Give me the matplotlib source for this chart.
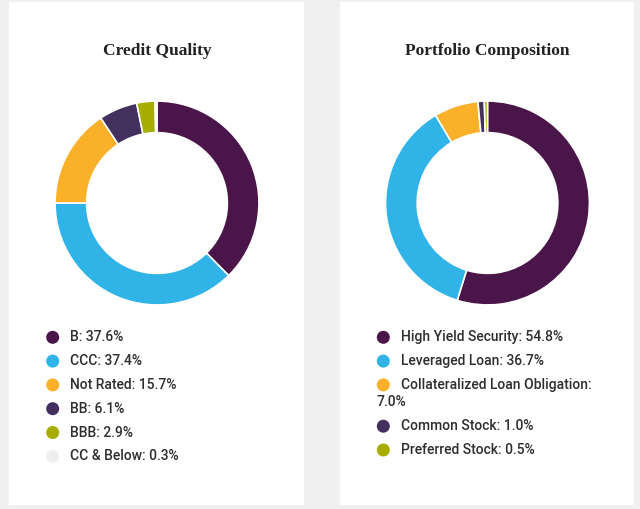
import matplotlib.pyplot as plt
from matplotlib.patches import Rectangle, Circle

W, H = 640, 509

# data
credit_labels = ["B", "CCC", "Not Rated", "BB", "BBB", "CC & Below"]
credit_values = [37.6, 37.4, 15.7, 6.1, 2.9, 0.3]
credit_colors = ["#4a1548", "#30b4e8", "#fbb02a", "#43305e", "#a6ad00", "#eeeeee"]

comp_labels = ["High Yield Security", "Leveraged Loan",
               "Collateralized Loan Obligation:\n", "Common Stock", "Preferred Stock"]
comp_values = [54.8, 36.7, 7.0, 1.0, 0.5]
comp_colors = ["#4a1548", "#30b4e8", "#fbb02a", "#43305e", "#a6ad00"]

TEXT = "#2e2e2e"
LEG_FONT = "Roboto"

fig = plt.figure(figsize=(W / 100, H / 100), dpi=100)
fig.patch.set_facecolor("#f0f0f0")

# overlay axes in pixel coordinates
bg = fig.add_axes([0, 0, 1, 1])
bg.set_xlim(0, W)
bg.set_ylim(H, 0)
bg.axis("off")

# white cards
bg.add_patch(Rectangle((9, 2), 295, 503, facecolor="white", edgecolor="none"))
bg.add_patch(Rectangle((340, 2), 294, 503, facecolor="white", edgecolor="none"))

bg.text(157, 51, "Credit Quality", ha="center", va="center", fontsize=12.5,
        family="Liberation Serif", weight="bold", color="#222222")
bg.text(487, 51, "Portfolio Composition", ha="center", va="center", fontsize=12.5,
        family="Liberation Serif", weight="bold", color="#222222")


def donut(cx, cy, values, colors):
    r = 104
    ax = fig.add_axes([(cx - r) / W, (H - cy - r) / H, 2 * r / W, 2 * r / H])
    ax.pie(values, colors=colors, startangle=90, counterclock=False,
           wedgeprops=dict(width=0.31, edgecolor="white", linewidth=1.2))
    ax.set_xlim(-1.02, 1.02)
    ax.set_ylim(-1.02, 1.02)
    ax.set_aspect("equal")
    ax.axis("off")


donut(157, 203, credit_values, credit_colors)
donut(487.5, 203, comp_values, comp_colors)


def legend(dot_x, text_x, wrap_x, y0, labels, values, colors):
    y = y0
    for lab, val, col in zip(labels, values, colors):
        bg.add_patch(Circle((dot_x, y), 6.5, facecolor=col, edgecolor="none"))
        if lab.endswith("\n"):
            bg.text(text_x, y, lab.strip(), ha="left", va="center", fontsize=10,
                    family=LEG_FONT, weight="medium", color=TEXT)
            y += 17.5
            bg.text(wrap_x, y, f"{val:.1f}%", ha="left", va="center", fontsize=10,
                    family=LEG_FONT, weight="medium", color=TEXT)
        else:
            bg.text(text_x, y, f"{lab}: {val:.1f}%", ha="left", va="center",
                    fontsize=10, family=LEG_FONT, weight="medium", color=TEXT)
        y += 23.8


legend(52.7, 70, 70, 337.3, credit_labels, credit_values, credit_colors)
legend(383.3, 401, 376.5, 337.3, comp_labels, comp_values, comp_colors)

fig.savefig("out.png", dpi=100, facecolor=fig.get_facecolor())
